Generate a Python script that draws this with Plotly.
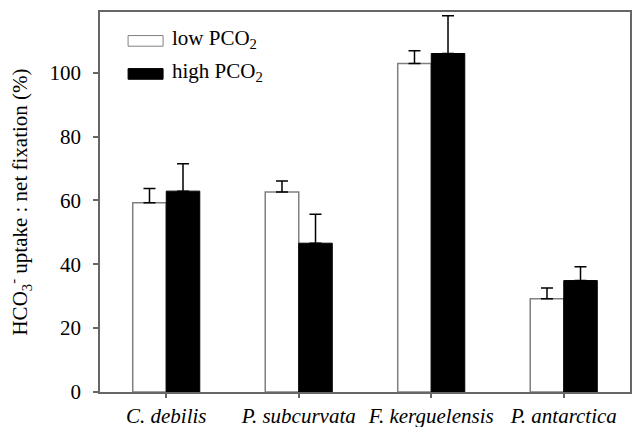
import plotly.graph_objects as go

species = ["<i>C. debilis</i>", "<i>P. subcurvata</i>", "<i>F. kerguelensis</i>", "<i>P. antarctica</i>"]
low_vals = [59.3, 62.6, 102.9, 29.2]
low_err = [4.4, 3.5, 4.0, 3.4]
high_vals = [62.9, 46.6, 106.0, 34.9]
high_err = [8.6, 9.1, 11.8, 4.3]
y_ticks = [0, 20, 40, 60, 80, 100]

FONT = "Liberation Serif"

fig = go.Figure()
fig.add_trace(go.Bar(
    x=species, y=low_vals, name="low PCO<sub>2</sub>",
    marker=dict(color="white", line=dict(color="#808080", width=1.5)),
    error_y=dict(type="data", array=low_err, arrayminus=[0]*4, symmetric=False,
                 color="black", thickness=1.5, width=6),
))
fig.add_trace(go.Bar(
    x=species, y=high_vals, name="high PCO<sub>2</sub>",
    marker=dict(color="black", line=dict(color="black", width=1)),
    error_y=dict(type="data", array=high_err, arrayminus=[0]*4, symmetric=False,
                 color="black", thickness=1.5, width=6),
))

# manual legend
legend_items = [("low PCO<sub>2</sub>", "white", "#808080"), ("high PCO<sub>2</sub>", "black", "black")]
legend_y = [0.924, 0.837]
for (label, fill, line), y0 in zip(legend_items, legend_y):
    fig.add_shape(type="rect", xref="paper", yref="paper",
                  x0=0.053, x1=0.119, y0=y0 - 0.014, y1=y0 + 0.014,
                  fillcolor=fill, line=dict(color=line, width=1))
    fig.add_annotation(xref="paper", yref="paper", x=0.132, y=y0 + 0.006, text=label,
                       showarrow=False, xanchor="left", yanchor="middle",
                       font=dict(family=FONT, size=21, color="black"))

fig.update_layout(
    width=636, height=427,
    margin=dict(l=100, r=6, t=12, b=35),
    plot_bgcolor="white", paper_bgcolor="white",
    barmode="group", bargap=0.494, bargroupgap=0,
    showlegend=False,
    font=dict(family=FONT, size=21, color="black"),
    xaxis=dict(showline=True, linecolor="#666666", linewidth=1.5, mirror=True,
               ticks="outside", ticklen=4, tickcolor="#666666", tickwidth=1.5,
               tickfont=dict(family=FONT, size=21, color="black"),
               showgrid=False, automargin=False, ticklabelstandoff=0),
    yaxis=dict(range=[0, 119], tickvals=y_ticks, showline=True, linecolor="#666666",
               linewidth=1.5, mirror=True, ticks="outside", ticklen=5,
               tickcolor="#666666", tickwidth=1.5, showgrid=False, zeroline=False,
               tickfont=dict(family=FONT, size=21, color="black"),
               automargin=False, ticklabelstandoff=8,
               title=dict(text="HCO<sub>3</sub><sup>-</sup> uptake : net fixation (%)",
                          font=dict(family=FONT, size=21, color="black"), standoff=16)),
)

fig.write_html("out.html")
